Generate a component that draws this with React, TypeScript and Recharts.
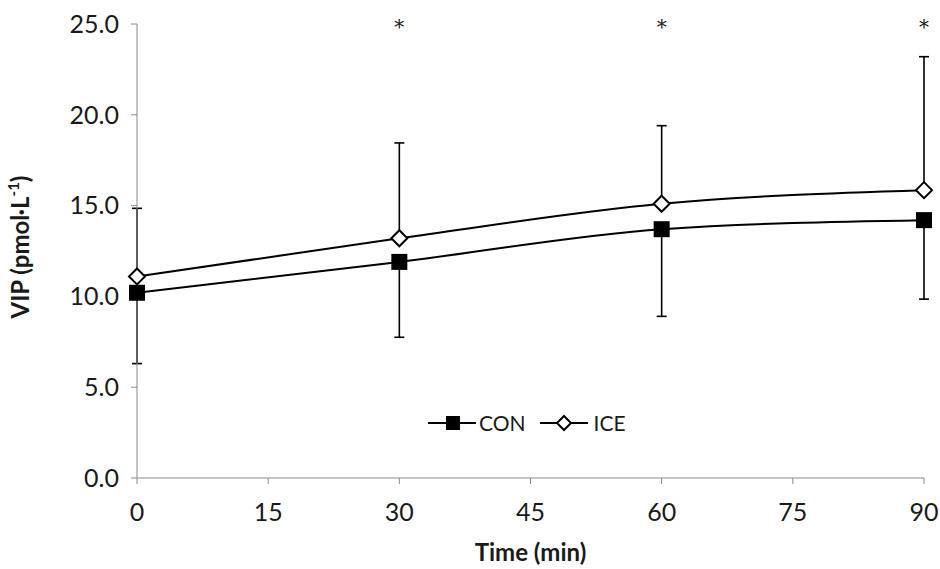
import { LineChart, Line, XAxis, YAxis, ErrorBar, ReferenceDot, Legend } from 'recharts'

const times = [0, 30, 60, 90]
const conMean = [10.2, 11.9, 13.7, 14.2]
const conErrLow = [3.9, 4.15, 4.8, 4.35]
const iceMean = [11.1, 13.2, 15.1, 15.85]
const iceErrHigh = [3.75, 5.25, 4.3, 7.35]
const sigTimes = [30, 60, 90]
const xTicks = [0, 15, 30, 45, 60, 75, 90]
const yTicks = [0, 5, 10, 15, 20, 25]

const data = times.map((t, i) => ({
  time: t,
  con: conMean[i],
  ice: iceMean[i],
  conErr: [conErrLow[i], 0],
  iceErr: [0, iceErrHigh[i]],
}))

const FONT = 'Lato, "Open Sans", sans-serif'
const TEXT = '#1a1a1a'
const AXIS = '#8a8a8a'

const SquareDot = ({ cx, cy }: any) => (
  <rect x={cx - 8} y={cy - 8} width={16} height={16} fill="#000" />
)

const DiamondDot = ({ cx, cy }: any) => (
  <path
    d={`M${cx},${cy - 8} L${cx + 8},${cy} L${cx},${cy + 8} L${cx - 8},${cy} Z`}
    fill="#fff"
    stroke="#000"
    strokeWidth={2}
  />
)

const YLabel = ({ viewBox }: any) => {
  const cy = viewBox.y + viewBox.height / 2 - 4
  return (
    <text
      x={0}
      y={0}
      transform={`translate(29, ${cy}) rotate(-90)`}
      textAnchor="middle"
      fontFamily={FONT}
      fontWeight="bold"
      fontSize={24}
      fill={TEXT}
    >
      VIP (pmol·L
      <tspan fontSize={15} dy={-10}>-1</tspan>
      <tspan dy={10}>)</tspan>
    </text>
  )
}

const Star = ({ viewBox }: any) => (
  <text x={viewBox.x} y={viewBox.y + 10} textAnchor="middle" fontFamily="DejaVu Serif, serif" fontSize={20} fill={TEXT}>
    *
  </text>
)

const LegendContent = () => (
  <div style={{ display: 'flex', alignItems: 'center', fontFamily: FONT, fontSize: 21, color: TEXT }}>
    <svg width={48} height={20}>
      <line x1={0} y1={10} x2={48} y2={10} stroke="#000" strokeWidth={2} />
      <rect x={18} y={3} width={14} height={14} fill="#000" />
    </svg>
    <span style={{ marginLeft: 3, marginRight: 14 }}>CON</span>
    <svg width={48} height={20}>
      <line x1={0} y1={10} x2={48} y2={10} stroke="#000" strokeWidth={2} />
      <path d="M24,3 L31,10 L24,17 L17,10 Z" fill="#fff" stroke="#000" strokeWidth={2} />
    </svg>
    <span style={{ marginLeft: 6 }}>ICE</span>
  </div>
)

export default function App() {
  return (
    <div style={{ position: 'absolute', left: 0, top: 0, width: 940, height: 569, background: '#fff' }}>
      <LineChart width={940} height={569} data={data} margin={{ top: 24, right: 16, bottom: 0, left: 0 }}>
        <XAxis
          dataKey="time"
          type="number"
          domain={[0, 90]}
          ticks={xTicks}
          height={91}
          stroke={AXIS}
          tickSize={6}
          tickMargin={19}
          tick={{ fill: TEXT, fontSize: 25, fontFamily: FONT }}
          label={{ value: 'Time (min)', position: 'insideBottom', offset: 8, fill: TEXT, fontSize: 24, fontWeight: 'bold', fontFamily: FONT }}
        />
        <YAxis
          type="number"
          domain={[0, 25]}
          ticks={yTicks}
          width={137}
          stroke={AXIS}
          tickSize={6}
          tickMargin={12}
          tickFormatter={(v: number) => v.toFixed(1)}
          tick={{ fill: TEXT, fontSize: 25, fontFamily: FONT }}
          label={<YLabel />}
        />
        <Legend verticalAlign="middle" layout="horizontal" content={<LegendContent />} wrapperStyle={{ top: 410, left: 428, width: 'auto' }} />
        <Line
          type="monotone"
          dataKey="con"
          name="CON"
          stroke="#000"
          strokeWidth={2}
          dot={<SquareDot />}
          activeDot={false}
          isAnimationActive={false}
        >
          <ErrorBar dataKey="conErr" width={5} stroke="#000" strokeWidth={1.6} direction="y" />
        </Line>
        <Line
          type="monotone"
          dataKey="ice"
          name="ICE"
          stroke="#000"
          strokeWidth={2}
          dot={<DiamondDot />}
          activeDot={false}
          isAnimationActive={false}
        >
          <ErrorBar dataKey="iceErr" width={5} stroke="#000" strokeWidth={1.6} direction="y" />
        </Line>
        {sigTimes.map((t) => (
          <ReferenceDot key={t} x={t} y={25} r={0} fill="none" stroke="none" label={<Star />} />
        ))}
      </LineChart>
    </div>
  )
}
